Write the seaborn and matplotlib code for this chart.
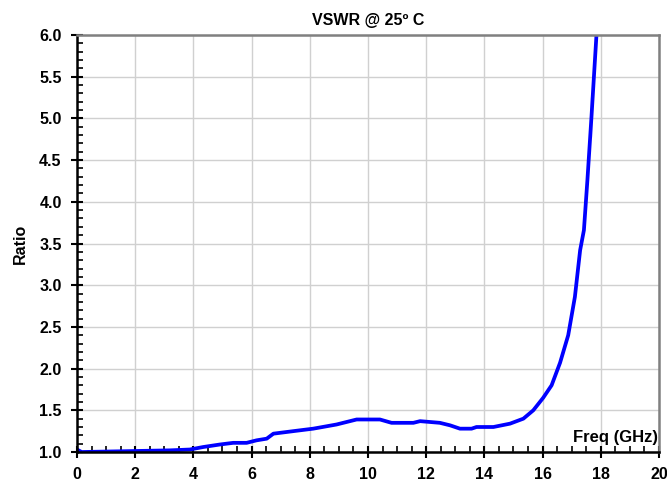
import numpy as np
import matplotlib
matplotlib.use('Agg')
import matplotlib.pyplot as plt
import seaborn as sns
from matplotlib.ticker import MultipleLocator

freq_ghz = [0.0, 0.16, 1.71, 3.2, 3.88, 4.34, 4.91, 5.37, 5.83, 6.17, 6.52, 6.75,
            7.43, 8.12, 8.92, 9.61, 10.41, 10.81, 11.56, 11.79, 12.47, 12.82,
            13.16, 13.56, 13.73, 14.31, 14.88, 15.34, 15.68, 16.02, 16.31, 16.6,
            16.88, 17.11, 17.29, 17.42, 17.54, 17.68, 17.68, 17.86]
ratio = [1.03, 1.0, 1.01, 1.02, 1.03, 1.06, 1.09, 1.11, 1.11, 1.14, 1.16, 1.22,
         1.25, 1.28, 1.33, 1.39, 1.39, 1.35, 1.35, 1.37, 1.35, 1.32,
         1.28, 1.28, 1.30, 1.30, 1.34, 1.40, 1.50, 1.65, 1.80, 2.07,
         2.40, 2.86, 3.42, 3.66, 4.26, 4.78, 5.26, 6.05]

sns.set_style('white')
plt.rcParams['font.family'] = ['Liberation Sans', 'DejaVu Sans']
plt.rcParams['text.color'] = 'black'
plt.rcParams['axes.labelcolor'] = 'black'
plt.rcParams['xtick.color'] = 'black'
plt.rcParams['ytick.color'] = 'black'

fig = plt.figure(figsize=(6.67, 4.91), dpi=100)
ax = fig.add_axes([0.1154, 0.0794, 0.8726, 0.8493])

sns.lineplot(x=freq_ghz, y=ratio, ax=ax, color='#0000ff', linewidth=2.7, sort=False)

ax.set_xlim(0, 20)
ax.set_ylim(1.0, 6.0)
ax.xaxis.set_major_locator(MultipleLocator(2))
ax.xaxis.set_minor_locator(MultipleLocator(0.5))
ax.yaxis.set_major_locator(MultipleLocator(0.5))
ax.yaxis.set_minor_locator(MultipleLocator(0.1))
ax.yaxis.set_major_formatter(matplotlib.ticker.FormatStrFormatter('%.1f'))

ax.grid(True, which='major', color='#d0d0d0', linewidth=1)
ax.tick_params(which='both', bottom=True, left=True, top=False, right=False)
ax.tick_params(which='major', direction='inout', length=8, width=1.5,
               labelsize=11.5, pad=7, color='black', labelcolor='black')
ax.tick_params(which='minor', direction='in', length=4, width=1.2, color='black')
for lab in ax.get_xticklabels() + ax.get_yticklabels():
    lab.set_fontweight('bold')

ax.spines['left'].set_color('black')
ax.spines['bottom'].set_color('black')
ax.spines['left'].set_linewidth(1.8)
ax.spines['bottom'].set_linewidth(1.8)
ax.spines['top'].set_color('#808080')
ax.spines['right'].set_color('#808080')
ax.spines['top'].set_linewidth(1.8)
ax.spines['right'].set_linewidth(1.8)
for s in ax.spines.values():
    s.set_visible(True)

ax.set_title('VSWR @ 25º C', fontsize=11.5, fontweight='bold', pad=7, color='black')
ax.set_ylabel('Ratio', fontsize=11.5, fontweight='bold', labelpad=8, color='black')
ax.text(19.95, 1.08, 'Freq (GHz)', ha='right', va='bottom', fontsize=12,
        fontweight='bold', color='black')

fig.savefig('out.png', dpi=100)
